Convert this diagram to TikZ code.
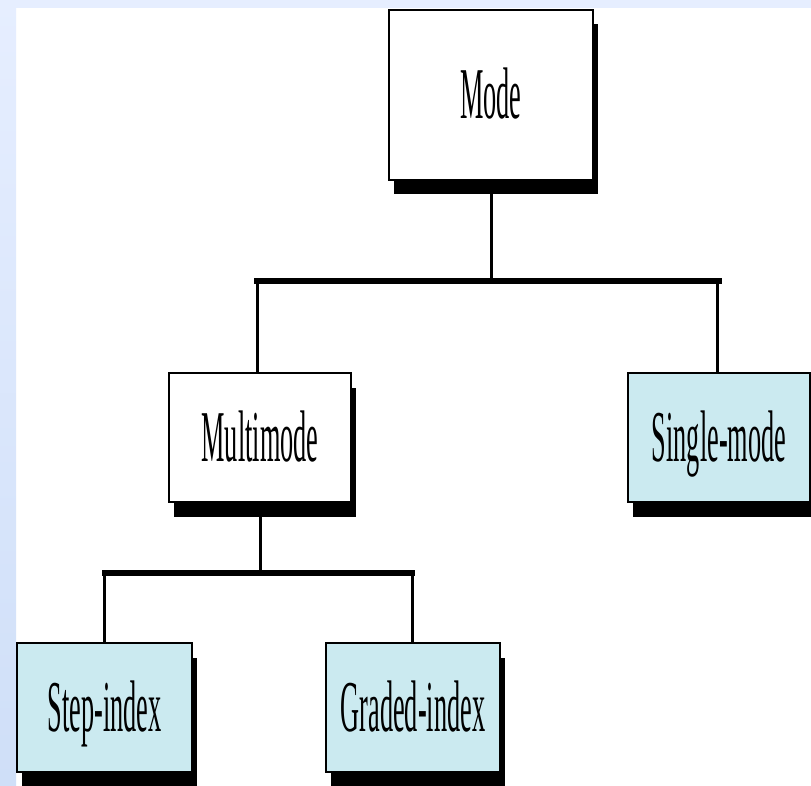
\documentclass[tikz,border=0pt]{standalone}
\usepackage{fontspec}
\setmainfont{Liberation Serif}
\usetikzlibrary{shadows}
\pgfdeclarelayer{bg}
\pgfdeclarelayer{lines}
\pgfsetlayers{bg,lines,main}
\definecolor{stripblue}{HTML}{E6EEFF}
\definecolor{stripblue2}{HTML}{CFDFF8}
\definecolor{boxcyan}{HTML}{CBEAF0}
\newcommand{\lbl}[1]{\scalebox{0.36}[1]{\fontsize{73}{73}\selectfont #1}}
\tikzset{
  box/.style={draw=black, line width=1.5pt, fill=white, inner sep=0pt,
    text height=48pt, text depth=0pt,
    drop shadow={shadow xshift=5pt, shadow yshift=-14.5pt, opacity=1, fill=black}},
  leaf/.style={box, fill=boxcyan},
  conn/.style={line width=3pt, black},
  bar/.style={line width=6pt, black, line cap=rect}
}
\begin{document}
\begin{tikzpicture}[x=1pt, y=-1pt]
\useasboundingbox (0,0) rectangle (811,786);
\begin{pgfonlayer}{bg}
  \fill[white] (0,0) rectangle (811,786);
  \shade[top color=stripblue, bottom color=stripblue2] (0,0) rectangle (16,786);
  \fill[stripblue] (0,0) rectangle (811,8);
\end{pgfonlayer}

\node[box, minimum width=204pt, minimum height=170pt] (mode) at (491,95) {\lbl{Mode}};
\node[box, minimum width=182pt, minimum height=129pt] (multi) at (260,437.5) {\lbl{Multimode}};
\node[leaf, minimum width=182pt, minimum height=129pt] (single) at (719,437.5) {\lbl{Single-mode}};
\node[leaf, minimum width=175pt, minimum height=129pt] (step) at (104.5,707.5) {\lbl{Step-index}};
\node[leaf, minimum width=174pt, minimum height=129pt] (graded) at (413,707.5) {\lbl{Graded-index}};

\coordinate (bar1) at (0,281);
\coordinate (bar2) at (0,573);

\begin{pgfonlayer}{lines}
  \draw[conn] (mode.south) -- (mode.south |- bar1);
  \draw[bar] ([xshift=-3pt]multi.north |- bar1) -- (single.north |- bar1);
  \draw[conn] ([xshift=-3pt]multi.north |- bar1) -- ([xshift=-3pt]multi.north);
  \draw[conn] ([xshift=-2pt]single.north |- bar1) -- ([xshift=-2pt]single.north);
  \draw[conn] (multi.south) -- (multi.south |- bar2);
  \draw[bar] (step.north |- bar2) -- ([xshift=-1pt]graded.north |- bar2);
  \draw[conn] (step.north |- bar2) -- (step.north);
  \draw[conn] ([xshift=-1pt]graded.north |- bar2) -- ([xshift=-1pt]graded.north);
\end{pgfonlayer}
\end{tikzpicture}
\end{document}
